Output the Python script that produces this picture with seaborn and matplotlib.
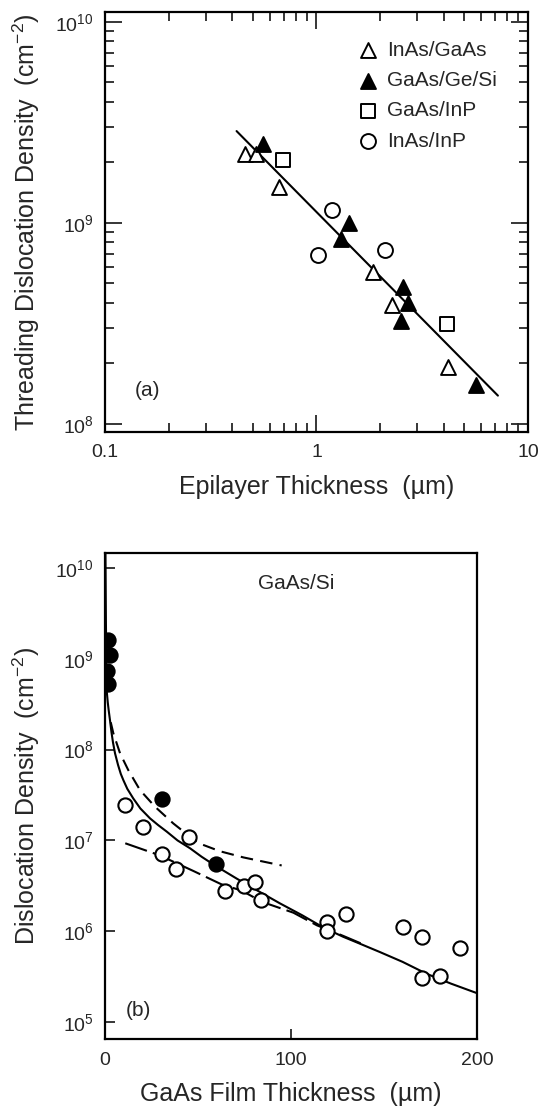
import matplotlib
matplotlib.use('Agg')
import matplotlib.pyplot as plt
from matplotlib.ticker import LogLocator, NullFormatter, NullLocator
import seaborn as sns

# ---- panel (a): threading dislocation density vs epilayer thickness ----
inas_gaas_x = [0.457, 0.519, 0.665, 1.85, 2.28, 4.2]
inas_gaas_y = [2.2e9, 2.2e9, 1.5e9, 5.7e8, 3.9e8, 1.91e8]

gaas_gesi_x = [0.556, 1.43, 1.30, 2.56, 2.72, 2.51, 5.70]
gaas_gesi_y = [2.48e9, 1.0e9, 8.34e8, 4.78e8, 4.0e8, 3.23e8, 1.56e8]

gaas_inp_x = [0.697, 4.14]
gaas_inp_y = [2.05e9, 3.13e8]

inas_inp_x = [1.19, 1.015, 2.10]
inas_inp_y = [1.16e9, 6.9e8, 7.3e8]

fit_a_x = [0.419, 7.21]
fit_a_y = [2.86e9, 1.38e8]

# ---- panel (b): GaAs/Si dislocation density vs film thickness ----
filled_b_x = [1.85, 2.6, 1.3, 1.7, 30.4, 59.6]
filled_b_y = [1.6e9, 1.11e9, 7.4e8, 5.25e8, 2.86e7, 5.5e6]

open_b_x = [10.6, 20.2, 30.4, 38.3, 45.4, 64.3, 74.6, 80.4, 84.1,
            119.4, 119.4, 129.4, 160.2, 170.2, 170.2, 180, 191.1]
open_b_y = [2.45e7, 1.41e7, 7.1e6, 4.8e6, 1.1e7, 2.77e6, 3.18e6, 3.45e6, 2.2e6,
            1.27e6, 1.01e6, 1.53e6, 1.11e6, 8.6e5, 3.08e5, 3.23e5, 6.5e5]

solid_b_x = [0.2, 0.5, 0.9, 1.5, 2.0, 2.7, 3.5, 4.3, 5.4, 7.0, 8.5, 9.9, 12, 15.2,
             19, 24.2, 28.5, 33.2, 39, 45.7, 52, 59.1, 70.8, 82, 94, 106, 117.4,
             128, 137, 147.8, 160, 172.9, 186, 200]
solid_b_y = [2e10, 2.5e9, 4.5e8, 3.3e8, 2.7e8, 2.1e8, 1.55e8, 1.2e8, 9.1e7, 6.8e7,
             5.4e7, 4.6e7, 3.7e7, 2.9e7, 2.25e7, 1.75e7, 1.48e7, 1.25e7, 1.0e7,
             8.2e6, 6.6e6, 5.3e6, 3.8e6, 2.8e6, 2.03e6, 1.5e6, 1.1e6, 8.7e5, 7.3e5,
             5.9e5, 4.6e5, 3.4e5, 2.65e5, 2.08e5]

upper_dash_x = [3.1, 4.5, 8.1, 12.5, 18.8, 26.9, 36.7, 45.7, 51.1, 61.8, 74.4, 95]
upper_dash_y = [2.0e8, 1.51e8, 9.1e7, 5.96e7, 3.59e7, 2.35e7, 1.54e7, 1.1e7,
                9.2e6, 7.6e6, 6.5e6, 5.3e6]

lower_dash_x = [10.9, 29, 47.6, 62.4, 73.5, 84.6, 101.3, 114, 128, 140]
lower_dash_y = [9.3e6, 6.9e6, 4.6e6, 3.3e6, 2.8e6, 2.1e6, 1.6e6, 1.16e6, 8.9e5, 7.0e5]

sns.set_style('ticks')
plt.rcParams['font.family'] = ['Liberation Sans', 'DejaVu Sans']
plt.rcParams['mathtext.fontset'] = 'custom'
plt.rcParams['mathtext.rm'] = 'Liberation Sans'
plt.rcParams['mathtext.it'] = 'Liberation Sans:italic'
plt.rcParams['mathtext.bf'] = 'Liberation Sans:bold'

fig = plt.figure(figsize=(5.42, 11.07), dpi=100)
ax1 = fig.add_axes([0.1937, 0.6098, 0.7804, 0.3794])
ax2 = fig.add_axes([0.1937, 0.0614, 0.6863, 0.439])

# panel (a)
ax1.set_xscale('log')
ax1.set_yscale('log')
sns.lineplot(x=fit_a_x, y=fit_a_y, color='black', lw=1.5, ax=ax1, zorder=2)
mk = dict(s=115, linewidth=1.4, edgecolor='black', zorder=3, ax=ax1)
sns.scatterplot(x=inas_gaas_x, y=inas_gaas_y, marker='^', color='white', label='InAs/GaAs', **mk)
sns.scatterplot(x=gaas_gesi_x, y=gaas_gesi_y, marker='^', color='black', label='GaAs/Ge/Si', **mk)
sns.scatterplot(x=gaas_inp_x, y=gaas_inp_y, marker='s', color='white', label='GaAs/InP', **mk)
sns.scatterplot(x=inas_inp_x, y=inas_inp_y, marker='o', color='white', label='InAs/InP', **mk)

ax1.set_xlim(0.1, 10)
ax1.set_ylim(9.1e7, 1.12e10)
ax1.set_xticks([0.1, 1, 10], labels=['0.1', '1', '10'])
ax1.xaxis.set_minor_locator(LogLocator(base=10, subs=range(2, 10)))
ax1.xaxis.set_minor_formatter(NullFormatter())
ax1.set_yticks([1e8, 1e9, 1e10])
ax1.yaxis.set_minor_locator(LogLocator(base=10, subs=range(2, 10)))
ax1.yaxis.set_minor_formatter(NullFormatter())
ax1.tick_params(which='both', direction='in', top=True, right=True, width=1.3, labelsize=14)
ax1.tick_params(axis='x', which='both', pad=9)
ax1.tick_params(axis='y', which='both', pad=8)
ax1.tick_params(which='major', length=12)
ax1.tick_params(which='minor', length=6.5)
ax1.set_xlabel('Epilayer Thickness  (µm)', fontsize=18, labelpad=10)
ax1.set_ylabel('Threading Dislocation Density  (cm$^{-2}$)', fontsize=18, labelpad=10)
ax1.text(0.071, 0.0976, '(a)', transform=ax1.transAxes, fontsize=15, ha='left', va='center')
ax1.legend(loc='upper left', bbox_to_anchor=(0.598, 0.931), frameon=False, fontsize=15,
           handlelength=1.0, handletextpad=0.4, labelspacing=0.54, borderpad=0,
           borderaxespad=0)

# panel (b)
ax2.set_yscale('log')
sns.lineplot(x=solid_b_x, y=solid_b_y, color='black', lw=1.5, sort=False, ax=ax2, zorder=2)
sns.lineplot(x=upper_dash_x, y=upper_dash_y, color='black', lw=1.5, sort=False, ax=ax2,
             zorder=2, linestyle=(0, (6, 3.5)))
sns.lineplot(x=lower_dash_x, y=lower_dash_y, color='black', lw=1.5, sort=False, ax=ax2,
             zorder=2, linestyle=(0, (11, 3)))
sns.scatterplot(x=open_b_x, y=open_b_y, marker='o', s=105, color='white',
                edgecolor='black', linewidth=1.5, zorder=3, ax=ax2)
sns.scatterplot(x=filled_b_x, y=filled_b_y, marker='o', s=105, color='black',
                edgecolor='black', linewidth=1.5, zorder=3, ax=ax2)

ax2.set_xlim(0, 200)
ax2.set_ylim(6.5e4, 1.46e10)
ax2.set_xticks([0, 100, 200])
ax2.set_yticks([1e5, 1e6, 1e7, 1e8, 1e9, 1e10])
ax2.yaxis.set_minor_locator(NullLocator())
ax2.tick_params(which='major', direction='in', length=7, width=1.3, labelsize=14)
ax2.tick_params(axis='x', pad=9)
ax2.tick_params(axis='y', pad=8)
ax2.set_xlabel('GaAs Film Thickness  (µm)', fontsize=18, labelpad=10)
ax2.set_ylabel('Dislocation Density  (cm$^{-2}$)', fontsize=18, labelpad=10)
ax2.text(0.513, 0.938, 'GaAs/Si', transform=ax2.transAxes, fontsize=15, ha='center', va='center')
ax2.text(0.056, 0.058, '(b)', transform=ax2.transAxes, fontsize=15, ha='left', va='center')

for ax in (ax1, ax2):
    for sp in ax.spines.values():
        sp.set_linewidth(1.6)
        sp.set_color('black')

fig.savefig('out.png', dpi=100)
plt.close(fig)
